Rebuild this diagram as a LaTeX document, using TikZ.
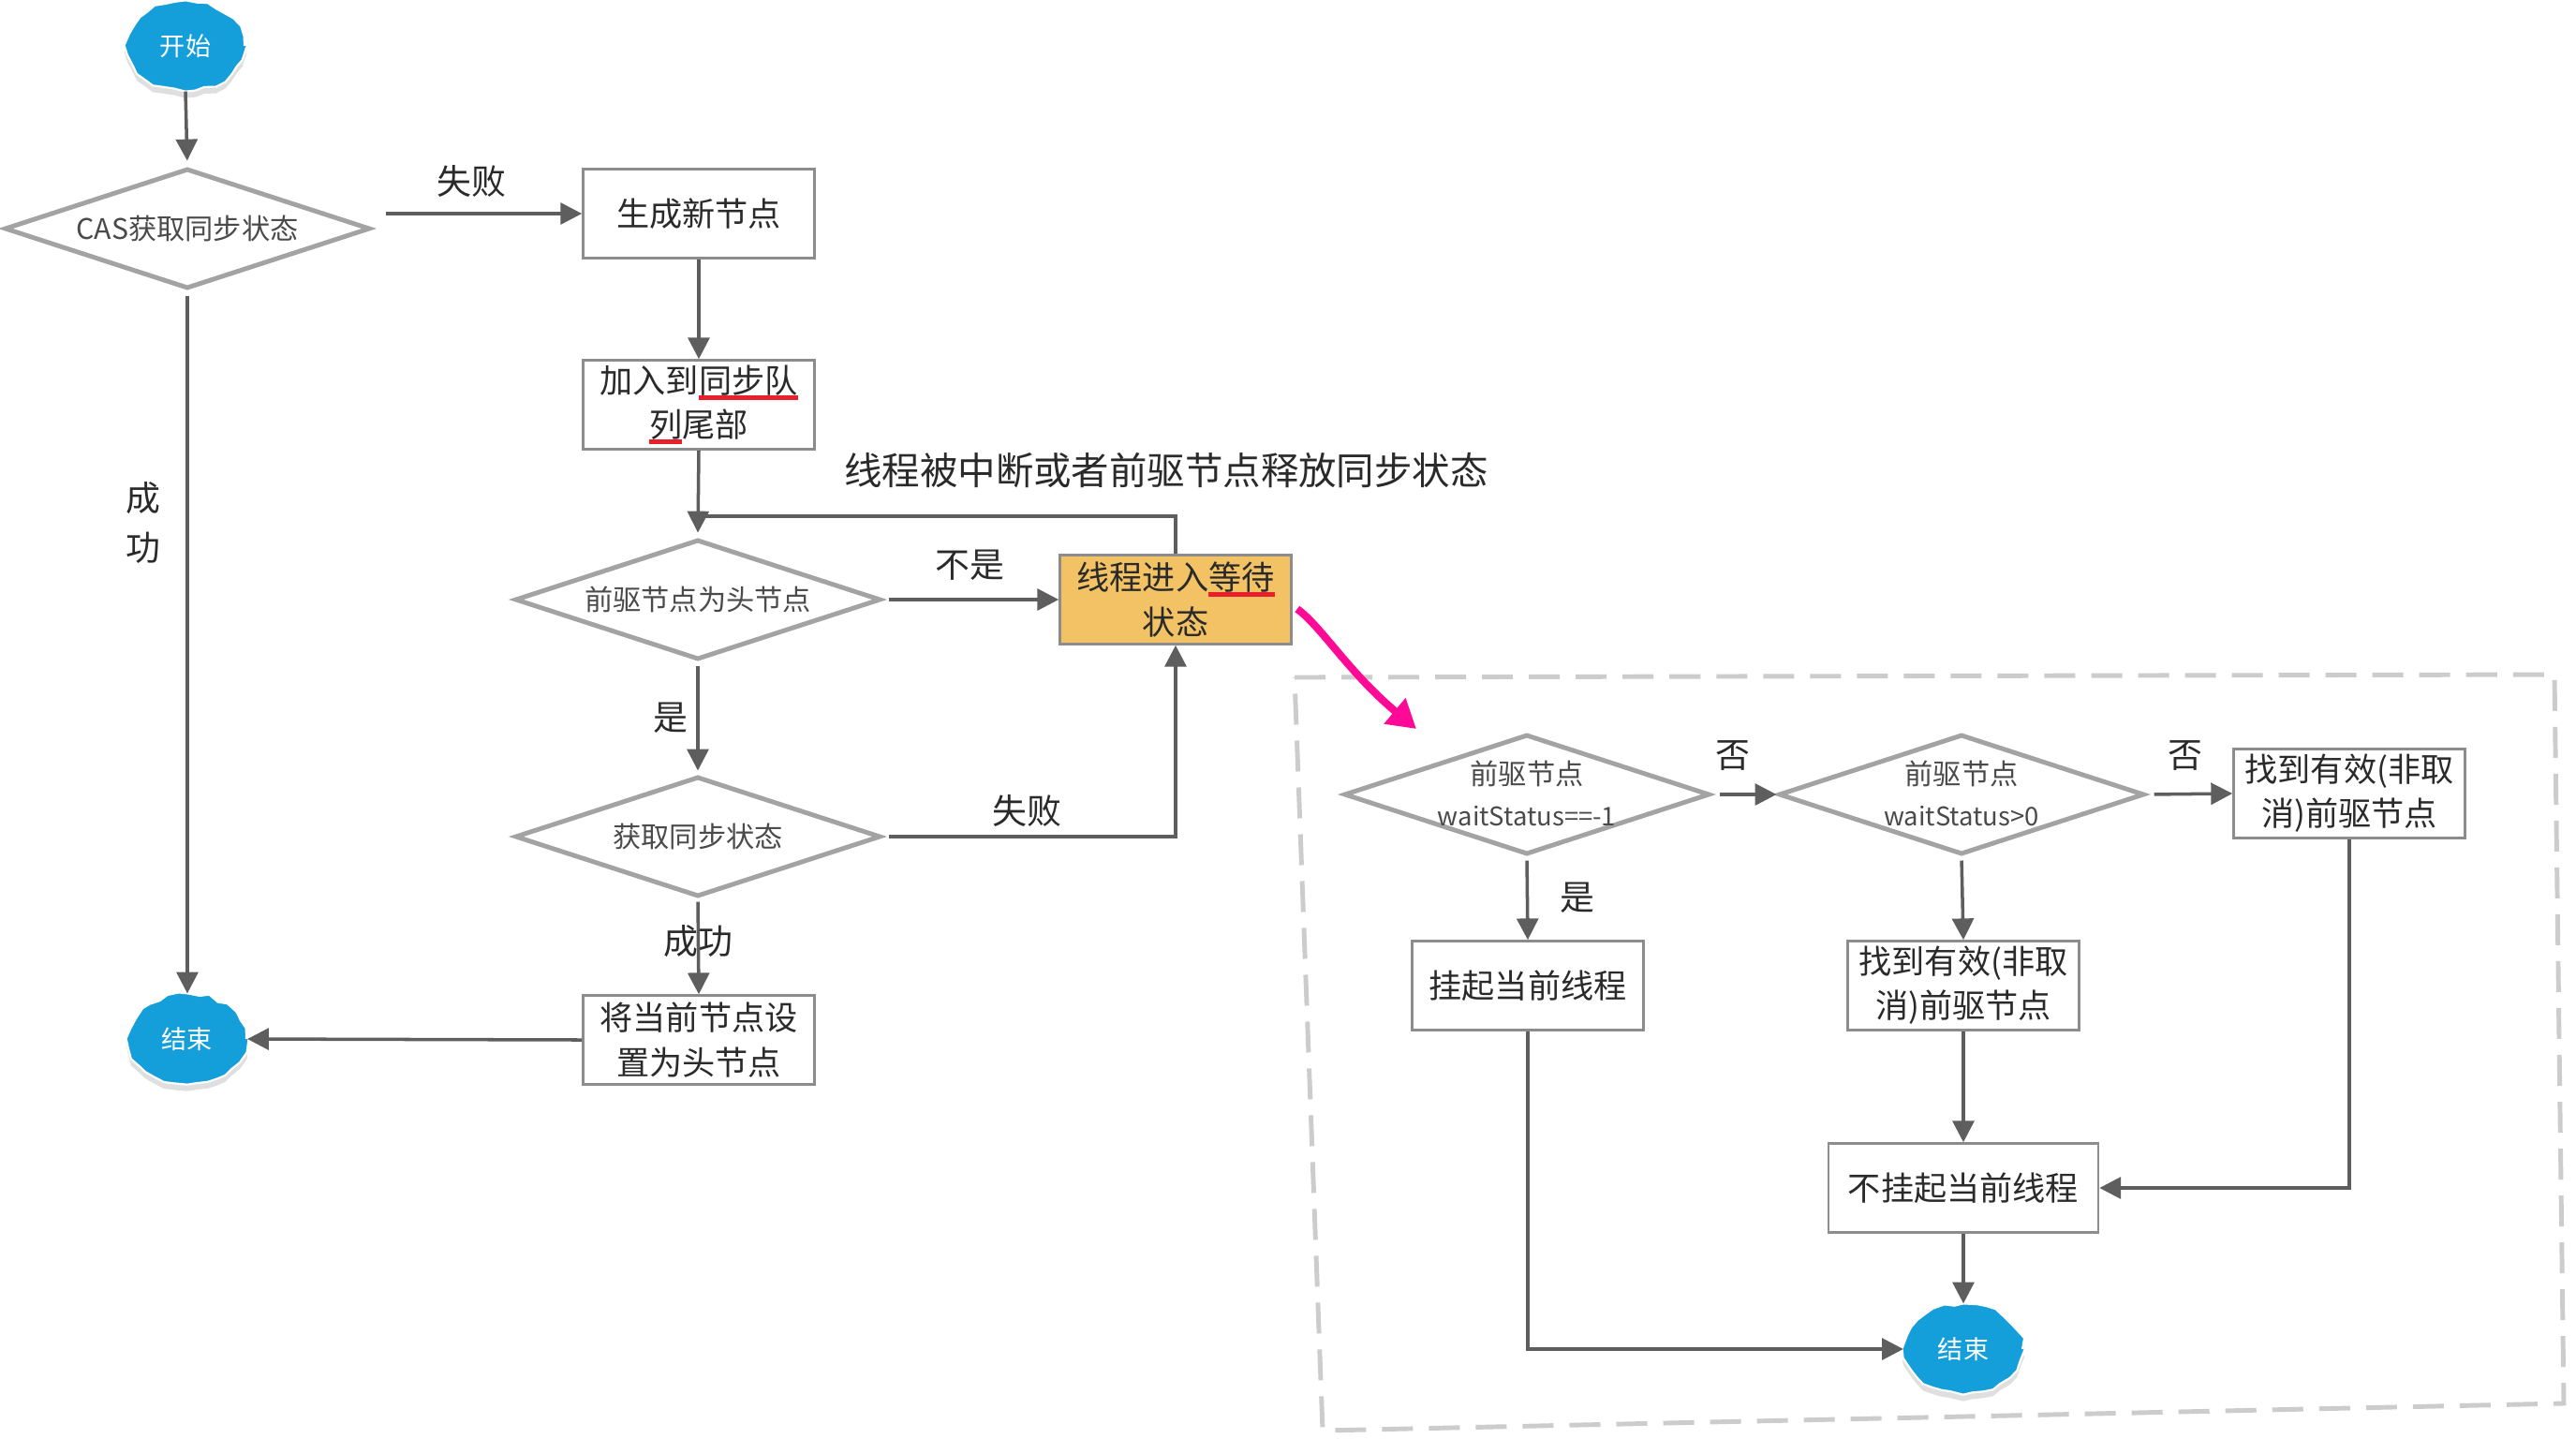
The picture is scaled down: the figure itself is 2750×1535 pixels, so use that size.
\documentclass[tikz,border=0pt]{standalone}
\usepackage{fontspec}
\setmainfont{Noto Sans CJK SC}
\usetikzlibrary{arrows.meta,shapes.geometric,decorations.pathmorphing,shadows}
\definecolor{linegray}{HTML}{5E5E5E}
\definecolor{diagray}{HTML}{A3A3A3}
\definecolor{boxgray}{HTML}{8C8C8C}
\definecolor{blobblue}{HTML}{149FDB}
\definecolor{waitfill}{HTML}{F2C264}
\definecolor{ulred}{HTML}{E8202A}
\definecolor{hotpink}{HTML}{FF0A96}
\definecolor{dashgray}{HTML}{CCCCCC}
\definecolor{txt}{HTML}{2A2A2A}
\newcommand\redul[1]{\setbox0=\hbox{#1}\rlap{\color{ulred}\rule[-0.2em]{\wd0}{0.13em}}\box0}
\newcommand\twoline[2]{\makebox[0pt]{\raisebox{-0.11cm}[0pt][0pt]{\begin{tabular}{@{}c@{}}#1\\{\fontsize{7.8}{10}\selectfont #2}\end{tabular}}}}
\begin{document}
\begin{tikzpicture}[x=0.01cm,y=-0.01cm,
  procbox/.style={draw=boxgray, line width=0.7pt, fill=white, rectangle, minimum width=2.47cm, minimum height=0.95cm, inner sep=0pt, align=center, text=txt, font=\fontsize{10}{13.4}\selectfont},
  decision/.style={draw=diagray, line width=1.4pt, diamond, aspect=3, inner sep=0pt, minimum width=3.9cm, minimum height=1.28cm, align=center, text=txt!85, font=\fontsize{8.6}{12.5}\selectfont},
  blob/.style={ellipse, fill=blobblue, draw=white, line width=0.6pt, minimum width=1.26cm, minimum height=0.95cm, inner sep=0pt, text=white, font=\fontsize{7.7}{9}\selectfont, decorate, decoration={random steps, segment length=3pt, amplitude=0.6pt}, drop shadow={opacity=0.25, shadow xshift=0pt, shadow yshift=-2pt}},
  lbl/.style={text=txt, font=\fontsize{10.5}{12}\selectfont, inner sep=0pt},
  arr/.style={draw=linegray, line width=1pt, -{Triangle[length=6.5pt,width=6.5pt]}},
  plain/.style={draw=linegray, line width=1pt},
  pinkarr/.style={draw=hotpink, line width=2.3pt, -{Triangle[length=0.3cm,width=0.34cm]}},
]
\pgfmathsetseed{7}
\fill[white] (0,0) rectangle (2750,1535);
\useasboundingbox (0,0) rectangle (2750,1535);

% dashed frame
\draw[dashgray, line width=1.4pt, dash pattern=on 0.33cm off 0.17cm] (1382,723) -- (2727,720) -- (2737,1498) -- (1412,1527) -- cycle;

% left flow
\node[blob] (start) at (198,49) {开始};
\node[decision] (cas) at (200,244) {CAS获取同步状态};
\node[procbox] (gen) at (746,228) {生成新节点};
\node[procbox] (join) at (746,432) {加入到\redul{同步队}\\\redul{列}尾部};
\node[decision] (pre) at (745,640) {前驱节点为头节点};
\node[procbox, fill=waitfill] (wait) at (1255,640) {线程进入\redul{等待}\\状态};
\node[decision] (acq) at (745,893) {获取同步状态};
\node[procbox] (head) at (746,1110) {将当前节点设\\置为头节点};
\node[blob] (end1) at (200,1109) {结束};

% right flow
\node[decision] (d1) at (1630,848) {\twoline{前驱节点}{waitStatus==-1}};
\node[decision] (d2) at (2094,848) {\twoline{前驱节点}{waitStatus>0}};
\node[procbox] (r1) at (2508,847) {找到有效(非取\\消)前驱节点};
\node[procbox] (hang) at (1631,1052) {挂起当前线程};
\node[procbox] (find2) at (2096,1052) {找到有效(非取\\消)前驱节点};
\node[procbox, minimum width=2.88cm] (nohang) at (2096,1268) {不挂起当前线程};
\node[blob] (end2) at (2096,1440) {结束};

% labels
\node[lbl] (l1) at (503,193) {失败};
\node[lbl, font=\fontsize{11.5}{13}\selectfont] (l2) at (1245,502) {线程被中断或者前驱节点释放同步状态};
\node[lbl] (l3) at (1035,603) {不是};
\node[lbl] (l4) at (716,766) {是};
\node[lbl] (l5) at (1096,865) {失败};
\node[lbl] (l6) at (745,1005) {成功};
\node[lbl, align=center, font=\fontsize{10.5}{15}\selectfont] (l7) at (153,558) {成\\功};
\node[lbl] (l8) at (1850,807) {否};
\node[lbl] (l9) at (2333,807) {否};
\node[lbl] (l10) at (1684,958) {是};

% connectors left
\coordinate (merge) at (746,551);
\draw[arr, shorten >=0.06cm] (start.south) -- (cas.north);
\draw[arr, shorten <=0.14cm] (gen.west -| cas.east) -- (gen.west);
\draw[arr] (gen.south) -- (join.north);
\draw[arr, shorten >=0.05cm] (join.south) -- (pre.north);
\draw[plain] (wait.north) |- (merge);
\draw[arr, shorten <=0.06cm] (pre.east) -- (wait.west);
\draw[arr, shorten <=0.04cm, shorten >=0.04cm] (pre.south) -- (acq.north);
\draw[arr, shorten <=0.06cm] (acq.east) -| (wait.south);
\draw[arr, shorten <=0.03cm] (acq.south) -- (head.north);
\draw[arr] (head.west) -- (end1.east);
\draw[arr, shorten <=0.05cm] (cas.south) -- (end1.north);

% pink pointer
\coordinate (pinkend) at (1512,778);
\draw[pinkarr] ([shift={(5,10)}]wait.east) .. controls (1410,668) and (1440,718) .. (pinkend);

% connectors right
\draw[arr, shorten <=0.08cm] (d1.east) -- (d2.west);
\draw[arr, shorten <=0.08cm] (d2.east) -- (r1.west);
\draw[arr, shorten <=0.04cm] (d1.south) -- (hang.north);
\draw[arr, shorten <=0.04cm] (d2.south) -- (find2.north);
\draw[arr] (find2.south) -- (nohang.north);
\draw[arr] (r1.south) |- (nohang.east);
\draw[arr] (nohang.south) -- (end2.north);
\draw[arr] (hang.south) |- (end2.west);
\end{tikzpicture}
\end{document}
